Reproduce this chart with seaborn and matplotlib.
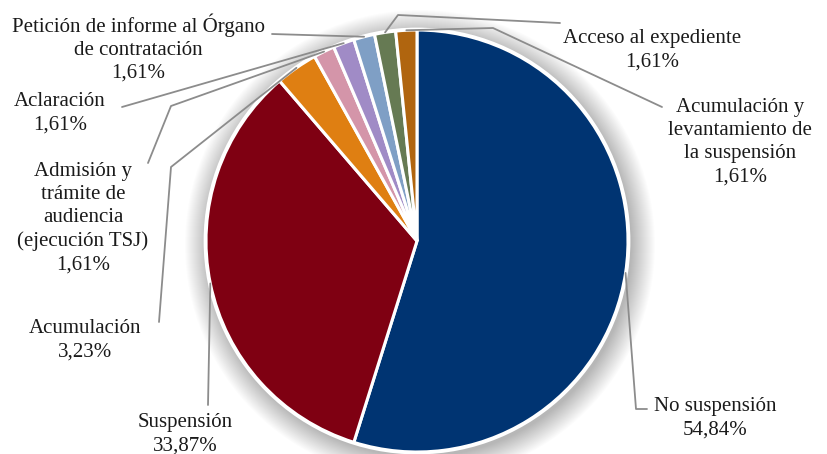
import numpy as np
import seaborn as sns
import matplotlib.pyplot as plt
from matplotlib.patches import Circle

# Datos del gráfico
categorias = ["No suspensión", "Suspensión", "Acumulación",
              "Admisión y\ntrámite de\naudiencia\n(ejecución TSJ)",
              "Aclaración",
              "Petición de informe al Órgano\nde contratación",
              "Acceso al expediente",
              "Acumulación y\nlevantamiento de\nla suspensión"]
valores = [34, 21, 2, 1, 1, 1, 1, 1]
etiquetas_pct = ["54,84%", "33,87%", "3,23%", "1,61%", "1,61%", "1,61%", "1,61%", "1,61%"]
colores = ["#003472", "#7f0012", "#df7f12", "#d495a9", "#a08bc6",
           "#7f9fc5", "#667a53", "#b0650f"]

W, H = 827, 454
def P(x, y):
    # píxel -> coordenadas de datos
    return x, H - y

# posiciones de las etiquetas (centro del bloque) y codos de las guías
pos_texto = [(715, 418), (185, 434), (85, 340), (83, 218), (60, 113),
             (138, 48), (652, 50), (740, 142)]
guias = [[(636, 409), (647, 409)],
         [(208, 405)],
         [(171, 167), (159, 322)],
         [(171, 106), (148, 163)],
         [(122, 107)],
         [(272, 34)],
         [(398, 15), (560, 23)],
         [(493, 28), (662, 107)]]

sns.set_theme(style="white")
plt.rcParams["font.family"] = ["Liberation Serif", "DejaVu Serif"]

fig = plt.figure(figsize=(8.27, 4.54), dpi=100)
ax = fig.add_axes([0, 0, 1, 1])
centro = P(417, 241)
radio = 211

# sombra suave alrededor de la tarta
for i in range(24, 0, -1):
    ax.add_patch(Circle(P(420, 245), radio + i, color="black", alpha=0.012,
                        lw=0, zorder=0))

wedges, _ = ax.pie(valores, colors=colores, startangle=90, counterclock=False,
                   center=centro, radius=radio,
                   wedgeprops=dict(edgecolor="white", linewidth=2.2))
for w in wedges:
    w.set_zorder(2)
ax.add_patch(Circle(centro, radio + 1, fill=False, edgecolor="white", lw=2, zorder=3))

for w, cat, pct, (tx, ty), codos in zip(wedges, categorias, etiquetas_pct, pos_texto, guias):
    ang = np.deg2rad((w.theta1 + w.theta2) / 2)
    x0 = centro[0] + radio * np.cos(ang)
    y0 = centro[1] + radio * np.sin(ang)
    xs = [x0] + [P(*c)[0] for c in codos]
    ys = [y0] + [P(*c)[1] for c in codos]
    ax.plot(xs, ys, color="#8c8c8c", lw=1.3, zorder=4)
    ax.text(*P(tx, ty), cat + "\n" + pct, ha="center", va="center",
            fontsize=15, color="#1a1a1a", linespacing=1.3, zorder=5)

ax.set_xlim(0, W)
ax.set_ylim(0, H)
ax.set_aspect("equal")
ax.axis("off")
fig.savefig("out.png", dpi=100, facecolor="white")
